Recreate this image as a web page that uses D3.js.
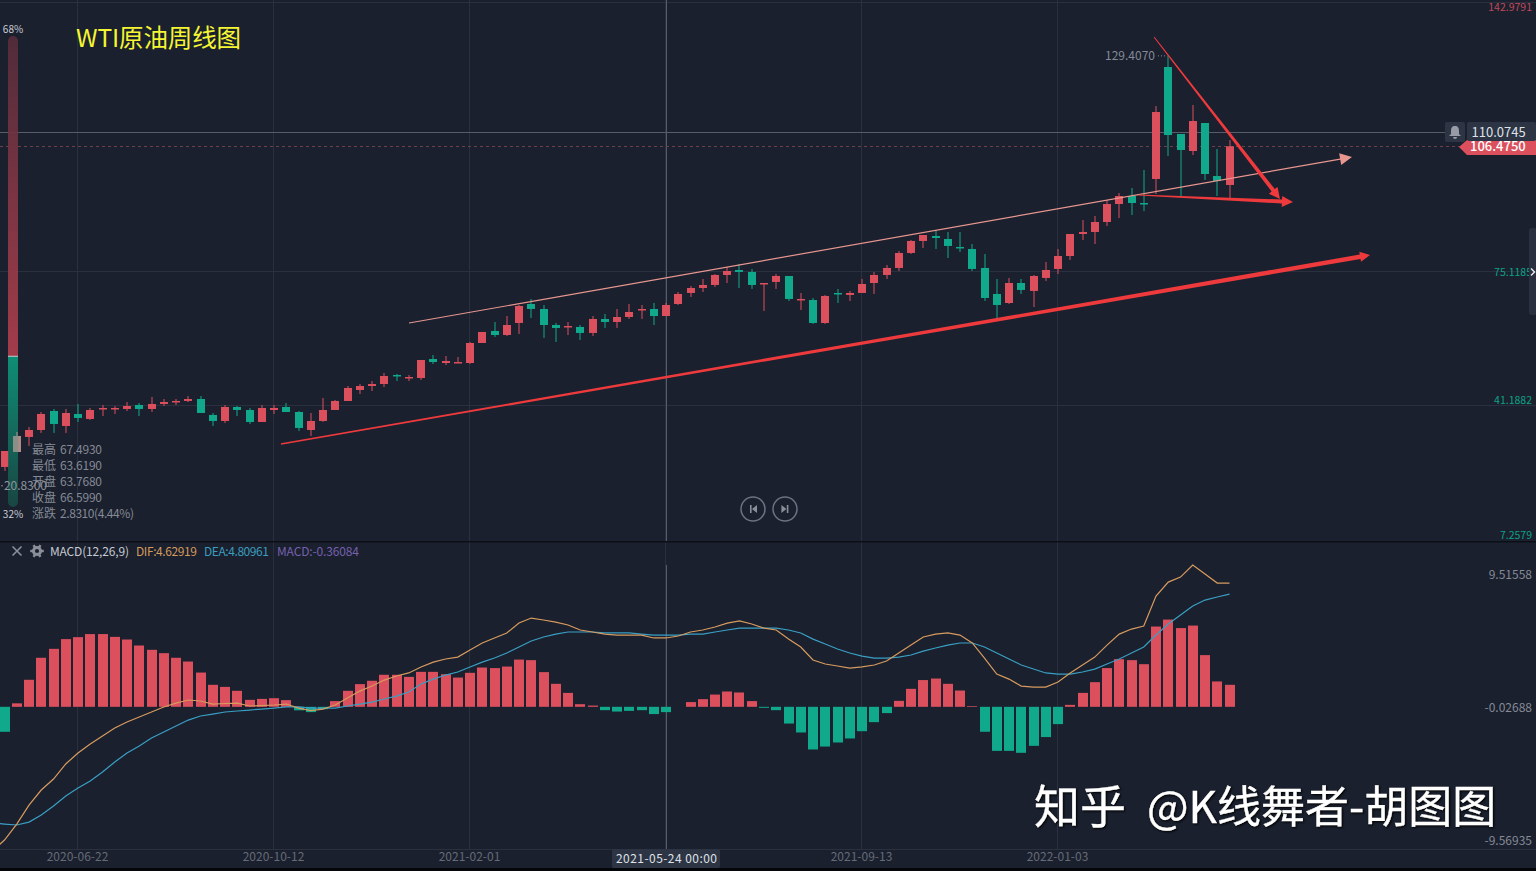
<!DOCTYPE html>
<html>
<head>
<meta charset="utf-8">
<title>WTI原油周线图</title>
<script src="https://cdnjs.cloudflare.com/ajax/libs/d3/7.8.5/d3.min.js"></script>
<style>
  html, body { margin: 0; padding: 0; background: #1a202e; overflow: hidden; }
  svg { display: block; }
  text { font-family: "Noto Sans CJK SC", "Noto Sans", sans-serif; }
</style>
</head>
<body>
<div id="chart"></div>
<script>
const width = 1536;
const height = 871;

// K line values, one per week
const open = [25.56,29.34,33.13,34.89,39.68,35.90,
  38.93,37.67,40.19,40.19,40.19,41.20,40.19,41.45,41.95,42.21,
  42.71,38.68,37.16,40.69,39.94,36.91,39.94,40.69,39.43,34.89,
  37.16,39.94,42.21,44.98,45.99,46.49,48.77,48.01,48.01,52.80,
  51.79,51.79,51.79,56.84,59.87,58.86,61.89,66.68,65.42,61.38,
  60.88,60.88,59.37,62.90,62.14,63.40,65.17,65.42,63.65,66.68,
  69.46,70.72,71.48,74.00,75.26,74.76,71.73,72.24,73.75,67.69,
  67.69,61.89,69.46,68.96,69.46,71.98,74.00,75.77,79.55,82.58,
  83.84,83.08,81.07,80.56,75.77,69.21,66.93,71.98,69.97,73.25,
  75.52,78.79,84.34,84.85,87.37,91.91,93.93,92.16,98.22,126.48,
  109.57,105.28,112.35,98.97,96.71];
const high = [29.59,34.39,35.65,39.43,40.19,40.19,
  41.45,40.44,41.20,40.94,41.95,41.70,43.22,42.71,42.71,43.47,
  43.47,39.18,41.20,40.94,40.44,41.20,41.20,41.70,39.68,39.18,
  42.96,42.46,45.99,46.49,47.25,49.27,49.02,48.77,52.55,53.81,
  53.56,53.31,57.10,59.62,62.14,63.65,66.43,67.95,66.43,61.89,
  62.14,61.38,63.65,64.16,65.42,66.68,66.43,66.93,66.93,69.71,
  71.23,72.99,74.25,76.02,76.78,75.52,71.98,74.25,73.75,69.46,
  68.20,68.96,70.47,69.97,72.99,74.76,76.53,80.06,82.83,84.09,
  85.35,84.85,84.85,81.82,79.30,72.99,73.25,72.99,74.00,77.28,
  80.56,84.34,87.87,88.88,92.92,94.69,95.95,100.49,116.63,129.41,
  109.57,116.89,112.35,105.79,108.06];
const low = [24.55,29.34,30.86,34.14,34.14,34.14,
  36.91,37.41,38.42,38.93,39.68,38.42,39.43,40.94,41.20,41.95,
  39.18,35.90,36.66,38.42,36.41,36.91,38.93,39.43,34.64,33.38,
  36.91,39.94,42.21,43.97,44.73,45.74,47.25,47.25,47.50,51.54,
  51.29,51.79,51.54,56.84,58.36,58.61,59.11,63.15,58.11,57.10,
  58.86,57.60,58.61,60.63,60.63,62.90,62.90,61.38,63.65,66.43,
  68.45,69.71,70.98,71.98,70.72,70.47,64.92,70.47,67.44,65.17,
  61.64,61.64,66.93,67.44,69.46,69.21,72.99,75.01,79.30,80.81,
  80.56,78.29,79.80,75.01,67.44,63.15,66.68,69.21,65.92,72.49,
  74.25,77.79,82.83,81.82,86.36,88.38,89.13,90.15,94.43,104.02,
  93.68,104.27,97.97,93.93,93.42];
const close = [29.59,33.38,34.89,38.93,36.41,39.18,
  37.92,39.94,40.44,40.44,40.94,40.19,41.45,41.95,42.21,42.71,
  39.18,37.16,40.69,39.94,36.91,40.44,40.44,39.43,35.40,37.16,
  39.94,42.21,45.49,45.99,46.49,48.51,48.51,48.26,52.55,52.04,
  52.30,52.04,56.84,59.62,58.86,61.38,66.18,65.42,61.38,60.63,
  61.13,59.37,62.90,62.14,63.40,64.66,65.42,63.65,66.43,69.21,
  70.72,71.48,74.00,75.01,74.76,71.48,71.98,73.75,67.95,67.95,
  61.89,68.70,69.21,69.46,71.73,74.00,75.77,79.55,82.58,84.09,
  83.33,81.32,80.81,75.52,68.20,66.43,71.98,70.22,73.75,75.26,
  78.79,84.34,84.85,87.37,91.91,93.93,92.16,91.91,115.12,109.32,
  105.54,112.85,99.48,97.71,106.475];

// MACD values
const hist = [-1.79,0.25,1.94,3.52,4.16,4.86,
  5.00,5.22,5.22,5.02,4.83,4.40,4.09,3.85,3.52,3.25,
  2.46,1.58,1.43,1.15,0.50,0.57,0.62,0.48,-0.25,-0.38,
  -0.17,0.41,1.15,1.63,1.87,2.30,2.30,2.15,2.51,2.51,
  2.34,2.10,2.44,2.82,2.78,2.89,3.39,3.35,2.49,1.65,
  1.00,0.19,0.09,-0.24,-0.34,-0.29,-0.24,-0.52,-0.38,0,
  0.34,0.55,0.88,1.10,1.03,0.41,-0.07,-0.24,-1.20,-1.84,
  -3.06,-2.85,-2.56,-2.27,-1.75,-1.10,-0.45,0.43,1.29,1.92,
  2.03,1.65,1.17,0.05,-1.79,-3.16,-3.16,-3.30,-2.80,-2.17,
  -1.24,0.14,1.00,1.77,2.78,3.42,3.35,3.06,5.76,6.26,
  5.65,5.83,3.71,1.82,1.58];
const dif = [-9.56,-8.41,-7.05,-5.97,-5.18,-4.10,
  -3.31,-2.67,-2.10,-1.52,-1.09,-0.73,-0.37,-0.01,0.27,0.49,
  0.42,0.20,0.24,0.27,0.06,0.09,0.13,0.20,-0.09,-0.27,
  -0.16,0.13,0.63,1.13,1.49,1.92,2.21,2.43,2.86,3.21,
  3.43,3.57,4.08,4.58,4.94,5.30,6.01,6.37,6.23,6.08,
  5.87,5.51,5.37,5.22,5.15,5.15,5.15,4.94,4.94,5.08,
  5.37,5.51,5.73,6.01,6.16,5.94,5.65,5.51,4.86,4.29,
  3.36,3.07,2.93,2.78,2.86,3.00,3.29,3.86,4.43,5.01,
  5.22,5.30,5.15,4.58,3.50,2.35,1.99,1.49,1.42,1.42,
  1.78,2.43,3.00,3.57,4.43,5.22,5.58,5.80,7.95,8.95,
  9.31,10.17,9.53,8.88,8.88];
const dea = [-8.41,-8.48,-8.27,-7.76,-7.12,-6.40,
  -5.83,-5.32,-4.68,-3.96,-3.31,-2.81,-2.24,-1.81,-1.38,-0.95,
  -0.66,-0.52,-0.37,-0.30,-0.23,-0.16,-0.09,-0.01,-0.01,-0.09,
  -0.09,-0.09,0.06,0.20,0.34,0.56,0.77,1.06,1.64,1.99,
  2.28,2.50,2.86,3.21,3.50,3.86,4.29,4.72,5.01,5.22,
  5.37,5.37,5.37,5.30,5.30,5.30,5.22,5.15,5.15,5.15,
  5.22,5.22,5.37,5.51,5.65,5.65,5.65,5.65,5.51,5.30,
  4.86,4.51,4.15,3.86,3.64,3.50,3.50,3.57,3.72,4.00,
  4.22,4.43,4.58,4.58,4.29,3.86,3.43,3.00,2.71,2.43,
  2.35,2.35,2.50,2.71,3.07,3.43,3.86,4.29,5.15,5.94,
  6.59,7.23,7.66,7.88,8.09];
// the week just left of the picture, the lines come in from it
const difPrev = -10.35;
const deaPrev = -8.34;

// axis labels
const dateTicks = [6, 22, 38, 54, 70, 86];
const dateLabels = ["2020-06-22", "2020-10-12", "2021-02-01", "2021-05-24", "2021-09-13", "2022-01-03"];
const priceTicks = [142.9791, 75.1185, 41.1882, 7.2579];
const priceLabels = ["142.9791", "75.1185", "41.1882", "7.2579"];
const macdTicks = [9.51558, -0.02688, -9.56935];

// info panel and readouts
const infoNames = ["最高", "最低", "开盘", "收盘", "涨跌"];
const infoValues = ["67.4930", "63.6190", "63.7680", "66.5990", "2.8310(4.44%)"];
const gaugeShare = [68, 32];
const peakPrice = 129.4070;
const lowPrice = 20.8300;
const crossPrice = 110.0745;
const lastPrice = 106.475;
const crossIndex = 54;
const hazeIndex = 1;

// trend lines drawn on the chart, [week index, price]
const upperLine = [[33.02, 61.88], [110.0, 103.77]];
const lowerLine = [[22.57, 31.36], [111.47, 79.04]];
const fallLine = [[93.84, 134.04], [104.12, 93.17]];
const flatLine = [[92.61, 94.18], [105.18, 92.41]];

const bgColor = "#1a202e";
const upColor = "#dc4f5d";
const downColor = "#10a98c";
const gridColor = "#2a303e";
const textColor = "#858a95";
const arrowColor = "#ee3a3c";

const svg = d3.select("#chart").append("svg")
  .attr("width", width)
  .attr("height", height);

const x = d3.scaleLinear().domain([0, 100]).range([4.5, 1229.5]);
const y = d3.scaleLinear().domain([7.2579, 142.9791]).range([539.5, 1.6]);
const yMacd = d3.scaleLinear().domain([-9.56935, 9.51558]).range([840.2, 574.2]);

svg.append("rect").attr("width", width).attr("height", height).attr("fill", bgColor);

// 网格
const grid = svg.append("g");
grid.selectAll(".vgrid")
  .data(dateTicks)
  .enter().append("line")
  .attr("x1", d => Math.round(x(d)) - 0.5)
  .attr("x2", d => Math.round(x(d)) - 0.5)
  .attr("y1", 0)
  .attr("y2", 849)
  .attr("stroke", gridColor);
grid.selectAll(".hgrid")
  .data(priceTicks.slice(0, 3))
  .enter().append("line")
  .attr("x1", 0)
  .attr("x2", 1536)
  .attr("y1", d => Math.round(y(d)) + 0.5)
  .attr("y2", d => Math.round(y(d)) + 0.5)
  .attr("stroke", gridColor);
grid.append("line").attr("x1", 0).attr("x2", 1536).attr("y1", 849.5).attr("y2", 849.5).attr("stroke", gridColor);

// 十字线
svg.append("line").attr("x1", 666.5).attr("x2", 666.5).attr("y1", 0).attr("y2", 541).attr("stroke", "#565c68");
svg.append("line").attr("x1", 666.5).attr("x2", 666.5).attr("y1", 565).attr("y2", 849).attr("stroke", "#565c68");
svg.append("line").attr("x1", 0).attr("x2", 1445)
  .attr("y1", Math.round(y(crossPrice)) + 0.5).attr("y2", Math.round(y(crossPrice)) + 0.5)
  .attr("stroke", "#565c68");
svg.append("line").attr("x1", 0).attr("x2", 1460)
  .attr("y1", Math.round(y(lastPrice)) + 0.5).attr("y2", Math.round(y(lastPrice)) + 0.5)
  .attr("stroke", "#6e404d").attr("stroke-dasharray", "3,3");

// K线
const candles = svg.append("g")
  .selectAll("g")
  .data(open.map((d, i) => i))
  .enter().append("g")
  .attr("fill", i => close[i] >= open[i] ? upColor : downColor);
candles.append("rect")
  .attr("x", i => Math.round(x(i)) - 0.5)
  .attr("width", 1)
  .attr("y", i => y(high[i]))
  .attr("height", i => y(low[i]) - y(high[i]));
candles.append("rect")
  .attr("x", i => Math.round(x(i)) - 4)
  .attr("width", 8)
  .attr("y", i => y(Math.max(open[i], close[i])))
  .attr("height", i => Math.max(1.5, Math.abs(y(open[i]) - y(close[i]))));

// 手画的趋势线，由细变粗
function taper(line, w0, w1, color, head) {
  const [x0, y0] = [x(line[0][0]), y(line[0][1])];
  const [x1, y1] = [x(line[1][0]), y(line[1][1])];
  const len = Math.hypot(x1 - x0, y1 - y0);
  const ux = (x1 - x0) / len;
  const uy = (y1 - y0) / len;
  const bx = x1 - ux * head;
  const by = y1 - uy * head;
  const pts = [
    [x0 - uy * w0 / 2, y0 + ux * w0 / 2],
    [x0 + uy * w0 / 2, y0 - ux * w0 / 2],
    [bx + uy * w1 / 2, by - ux * w1 / 2],
    [bx + uy * head / 2, by - ux * head / 2],
    [x1, y1],
    [bx - uy * head / 2, by + ux * head / 2],
    [bx - uy * w1 / 2, by + ux * w1 / 2]
  ];
  svg.append("polygon")
    .attr("points", pts.map(p => p.join(",")).join(" "))
    .attr("fill", color);
}
taper(upperLine, 1.2, 1.2, "#e8968f", 12);
taper(lowerLine, 1.5, 4.5, arrowColor, 10);
taper(flatLine, 1.2, 4, arrowColor, 11);
taper(fallLine, 1, 4, arrowColor, 11);

// 左侧多空比例条
const gaugeTop = 36;
const gaugeBottom = 507;
const gaugeY = d3.scaleLinear().domain([0, 100]).range([gaugeTop, gaugeBottom]);
const defs = svg.append("defs");
const redGrad = defs.append("linearGradient").attr("id", "gaugeRed").attr("x1", 0).attr("x2", 0).attr("y1", 0).attr("y2", 1);
redGrad.append("stop").attr("offset", "0%").attr("stop-color", "#572d3b");
redGrad.append("stop").attr("offset", "100%").attr("stop-color", "#b2404f");
const greenGrad = defs.append("linearGradient").attr("id", "gaugeGreen").attr("x1", 0).attr("x2", 0).attr("y1", 0).attr("y2", 1);
greenGrad.append("stop").attr("offset", "0%").attr("stop-color", "#0f9a7f");
greenGrad.append("stop").attr("offset", "100%").attr("stop-color", "#1a4a45");
const clip = defs.append("clipPath").attr("id", "gaugeClip");
clip.append("rect").attr("x", 8).attr("y", gaugeTop).attr("width", 10).attr("height", gaugeBottom - gaugeTop).attr("rx", 5);
const gauge = svg.append("g").attr("clip-path", "url(#gaugeClip)").attr("opacity", 0.9);
gauge.append("rect").attr("x", 8).attr("width", 10)
  .attr("y", gaugeY(0)).attr("height", gaugeY(gaugeShare[0]) - gaugeY(0)).attr("fill", "url(#gaugeRed)");
gauge.append("rect").attr("x", 8).attr("width", 10)
  .attr("y", gaugeY(gaugeShare[0])).attr("height", gaugeY(100) - gaugeY(gaugeShare[0])).attr("fill", "url(#gaugeGreen)");
gauge.append("rect").attr("x", 8).attr("width", 10).attr("y", gaugeY(gaugeShare[0]) - 0.5).attr("height", 1).attr("fill", "#d8dde0");
svg.append("text").attr("x", 13).attr("y", 33).attr("text-anchor", "middle")
  .attr("font-size", 10).attr("fill", "#c8ccd4").text(gaugeShare[0] + "%");
svg.append("text").attr("x", 13).attr("y", 518).attr("text-anchor", "middle")
  .attr("font-size", 10).attr("fill", "#c8ccd4").text(gaugeShare[1] + "%");

// 比例条压住的那根K线，原图里是灰的
svg.append("rect")
  .attr("x", Math.round(x(hazeIndex)) - 4)
  .attr("width", 8)
  .attr("y", y(close[hazeIndex]))
  .attr("height", y(open[hazeIndex]) - y(close[hazeIndex]))
  .attr("fill", "#a39a92").attr("opacity", 0.8);
svg.append("rect")
  .attr("x", Math.round(x(hazeIndex)) - 0.5)
  .attr("width", 1)
  .attr("y", y(high[hazeIndex]))
  .attr("height", y(close[hazeIndex]) - y(high[hazeIndex]))
  .attr("fill", "#a39a92");

// 标题
svg.append("text").attr("x", 76).attr("y", 47)
  .attr("font-size", 24.5).attr("fill", "#f5f532").attr("textLength", 165).text("WTI原油周线图");

// 悬停信息
const info = svg.append("g").attr("font-size", 12).attr("fill", textColor);
info.selectAll(".name").data(infoNames).enter().append("text")
  .attr("x", 32).attr("y", (d, i) => 454 + i * 16).text(d => d);
info.selectAll(".val").data(infoValues).enter().append("text")
  .attr("x", 60).attr("y", (d, i) => 454 + i * 16)
  .attr("textLength", d => d.length > 8 ? 74 : 42).text(d => d);
svg.append("circle").attr("cx", 2).attr("cy", y(lowPrice)).attr("r", 0.8).attr("fill", "#8f949e");
svg.append("text").attr("x", 4).attr("y", y(lowPrice) + 4).attr("font-size", 12)
  .attr("fill", "#8f949e").attr("textLength", 43).text(lowPrice.toFixed(4));

// 最高价标注
svg.append("text").attr("x", 1105).attr("y", y(peakPrice) + 5).attr("font-size", 12).attr("fill", textColor)
  .text(peakPrice.toFixed(4));
svg.append("line").attr("x1", 1158).attr("x2", 1166)
  .attr("y1", y(peakPrice) + 0.5).attr("y2", y(peakPrice) + 0.5)
  .attr("stroke", textColor).attr("stroke-dasharray", "1,2");

// 价格轴
const priceAxis = svg.append("g")
  .attr("transform", "translate(1532,0)")
  .call(d3.axisLeft(y).tickValues(priceTicks).tickSize(0).tickPadding(0)
    .tickFormat((d, i) => priceLabels[i]));
priceAxis.select(".domain").remove();
priceAxis.selectAll("text")
  .attr("font-size", 10.5)
  .attr("font-family", null)
  .attr("fill", (d, i) => i === 0 ? "#c0485a" : "#10a085")
  .attr("dy", (d, i) => [5, 1.5, -5, -4.5][i] + 3.5);

// 当前价和十字线标签
svg.append("polygon")
  .attr("points", "1459,147 1467,140 1536,140 1536,155 1467,155")
  .attr("fill", upColor);
svg.append("text").attr("x", 1470).attr("y", 150.5).attr("font-size", 13).attr("font-weight", 500)
  .attr("fill", "#fff").text(lastPrice.toFixed(4));
svg.append("rect").attr("x", 1467).attr("y", 122).attr("width", 69).attr("height", 19).attr("rx", 2).attr("fill", "#2d3443");
svg.append("text").attr("x", 1471.5).attr("y", y(crossPrice) + 5).attr("font-size", 13)
  .attr("fill", "#dfe2e8").text(crossPrice.toFixed(4));
svg.append("rect").attr("x", 1445).attr("y", 122).attr("width", 20).attr("height", 20).attr("rx", 2).attr("fill", "#2d3443");
svg.append("path")
  .attr("d", "M1455,126 c-3,0 -4,2 -4,5 l0,3 l-2,2 l12,0 l-2,-2 l0,-3 c0,-3 -1,-5 -4,-5 z M1453,137 a2,2 0 0,0 4,0 z")
  .attr("fill", "#969ba5");

// 右侧小把手
svg.append("rect").attr("x", 1529).attr("y", 228).attr("width", 8).attr("height", 87).attr("rx", 3).attr("fill", "#2a3040");
svg.append("path").attr("d", "M1531,268.5 l3.5,3.5 l-3.5,3.5").attr("fill", "none").attr("stroke", "#e4e6ea").attr("stroke-width", 1.5);

// 翻页按钮
const navX = [753, 785];
svg.selectAll(".nav").data(navX).enter().append("circle")
  .attr("cx", d => d).attr("cy", 509).attr("r", 12)
  .attr("fill", bgColor).attr("stroke", "#6d7280").attr("stroke-width", 1.5);
svg.append("path").attr("d", "M750,505 h1.6 v8 h-1.6 z M757,505 v8 l-5,-4 z").attr("fill", "#8a8f9a");
svg.append("path").attr("d", "M788.4,505 h-1.6 v8 h1.6 z M781.4,505 v8 l5,-4 z").attr("fill", "#8a8f9a");

// 分隔线
svg.append("rect").attr("x", 0).attr("y", 541).attr("width", width).attr("height", 1.5).attr("fill", "#0c0f15");

// MACD 柱
svg.append("g").selectAll("rect")
  .data(hist)
  .enter().append("rect")
  .attr("x", (d, i) => Math.round(x(i)) - 5)
  .attr("width", 10)
  .attr("y", d => Math.min(yMacd(0), yMacd(d)))
  .attr("height", d => Math.abs(yMacd(d) - yMacd(0)))
  .attr("fill", d => d >= 0 ? upColor : downColor);

// DIF, DEA
const macdLine = d3.line().x((d, i) => x(i - 1)).y(d => yMacd(d));
svg.append("path").attr("d", macdLine([deaPrev].concat(dea))).attr("fill", "none").attr("stroke", "#3a9fc4").attr("stroke-width", 1.2);
svg.append("path").attr("d", macdLine([difPrev].concat(dif))).attr("fill", "none").attr("stroke", "#d79b5f").attr("stroke-width", 1.2);

// MACD 图例
const legend = svg.append("g").attr("font-size", 12);
legend.append("text").attr("x", 50).attr("y", 556).attr("fill", "#c6c9d1").attr("textLength", 79).text("MACD(12,26,9)");
legend.append("text").attr("x", 136).attr("y", 556).attr("fill", "#d4995c").attr("textLength", 61).text("DIF:4.62919");
legend.append("text").attr("x", 204).attr("y", 556).attr("fill", "#3a9dbd").attr("textLength", 65).text("DEA:4.80961");
legend.append("text").attr("x", 277).attr("y", 556).attr("fill", "#7660ae").attr("textLength", 82).text("MACD:-0.36084");
svg.append("path").attr("d", "M12.5,546.5 l9,9 M21.5,546.5 l-9,9").attr("stroke", "#8a8f99").attr("stroke-width", 1.6);
svg.append("circle").attr("cx", 37).attr("cy", 551).attr("r", 3.6).attr("fill", "none").attr("stroke", "#8a8f99").attr("stroke-width", 3);
svg.selectAll(".tooth").data(d3.range(6)).enter().append("line")
  .attr("x1", d => 37 + 4 * Math.cos(d * Math.PI / 3))
  .attr("y1", d => 551 + 4 * Math.sin(d * Math.PI / 3))
  .attr("x2", d => 37 + 6.8 * Math.cos(d * Math.PI / 3))
  .attr("y2", d => 551 + 6.8 * Math.sin(d * Math.PI / 3))
  .attr("stroke", "#8a8f99").attr("stroke-width", 2.4);

// MACD 轴
const macdAxis = svg.append("g")
  .attr("transform", "translate(1532,0)")
  .call(d3.axisLeft(yMacd).tickValues(macdTicks).tickSize(0).tickPadding(0)
    .tickFormat(d => d.toFixed(5)));
macdAxis.select(".domain").remove();
macdAxis.selectAll("text")
  .attr("font-size", 12)
  .attr("font-family", null)
  .attr("fill", textColor);

// 日期轴，十字线所在的日期由下面的标签代替
const dateAxis = svg.append("g")
  .attr("transform", "translate(-1,849)")
  .call(d3.axisBottom(x).tickValues(dateTicks.filter(d => d !== crossIndex)).tickSize(0).tickPadding(3)
    .tickFormat(d => dateLabels[dateTicks.indexOf(d)]));
dateAxis.select(".domain").remove();
dateAxis.selectAll("text")
  .attr("font-size", 12)
  .attr("font-family", null)
  .attr("fill", "#666b77");

svg.append("rect").attr("x", 612).attr("y", 849).attr("width", 108).attr("height", 19).attr("rx", 2).attr("fill", "#2d3443");
svg.append("text").attr("x", 616).attr("y", 862.5).attr("font-size", 12)
  .attr("fill", "#dfe2e8").attr("textLength", 101).text(dateLabels[dateTicks.indexOf(crossIndex)] + " 00:00");

// 底部黑边
svg.append("rect").attr("x", 0).attr("y", 868).attr("width", width).attr("height", 3).attr("fill", "#05060a");

// 水印
const mark = svg.append("g")
  .attr("fill", "#ffffff")
  .attr("stroke", "#ffffff").attr("stroke-width", 0.4)
  .style("filter", "drop-shadow(1px 1px 1px #000)");
mark.append("text").attr("x", 1034).attr("y", 823).attr("font-size", 46).text("知乎");
mark.append("text").attr("x", 1147).attr("y", 823).attr("font-size", 44).text("@K线舞者-胡图图");
</script>
</body>
</html>
